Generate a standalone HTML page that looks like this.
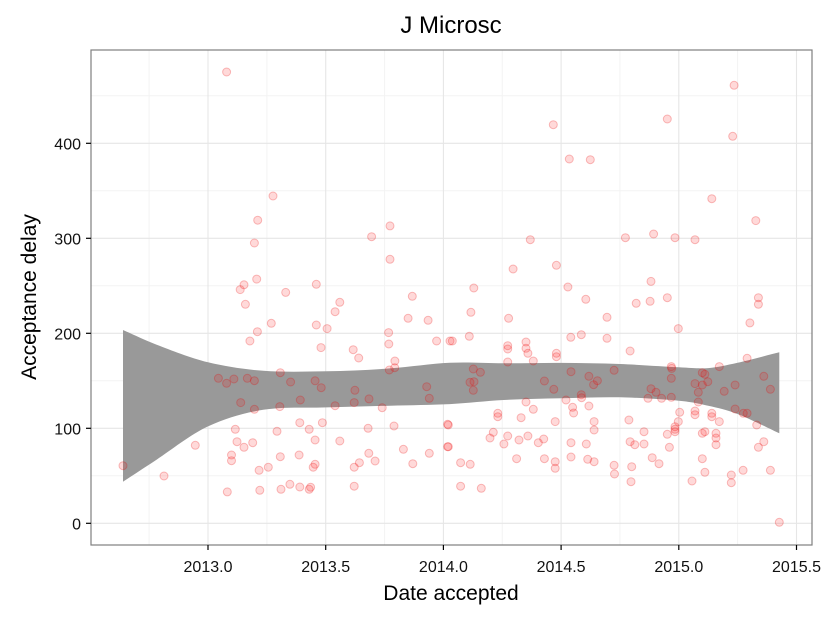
<!DOCTYPE html>
<html><head><meta charset="utf-8">
<style>
body{margin:0;background:#fff;}
svg{display:block;font-family:"Liberation Sans",sans-serif;}
</style></head>
<body>
<svg id="chart" width="825" height="618" viewBox="0 0 825 618" xmlns="http://www.w3.org/2000/svg">
<rect width="825" height="618" fill="#fff"/>
<text x="451" y="33" font-size="24" text-anchor="middle" fill="#000">J Microsc</text>
<g id="grid"></g>
<g id="band"></g>
<g id="points"></g>
<rect x="91" y="50" width="721" height="495" fill="none" stroke="#7f7f7f" stroke-width="1.2"/>
<g id="axes"></g>
<text x="451" y="600" font-size="21" text-anchor="middle">Date accepted</text>
<text transform="translate(36,297) rotate(-90)" font-size="21" text-anchor="middle">Acceptance delay</text>
</svg>
<script>
const xTicks = [2013.0, 2013.5, 2014.0, 2014.5, 2015.0, 2015.5];
const xTickLabels = ["2013.0", "2013.5", "2014.0", "2014.5", "2015.0", "2015.5"];
const yTicks = [0, 100, 200, 300, 400];
const yTickLabels = ["0", "100", "200", "300", "400"];
const pointX = [2013.079,2013.276,2013.211,2013.197,2013.207,2013.153,2013.137,2013.159,2013.33,2013.46,2013.56,2013.54,2013.269,2013.21,2013.46,2013.506,2013.178,2013.48,2013.617,2013.64,2013.695,2013.773,2013.773,2013.868,2013.85,2013.935,2013.767,2013.768,2013.971,2014.028,2013.794,2013.793,2013.77,
2013.044,2013.079,2013.11,2013.167,2013.197,2013.307,2013.351,2013.455,2013.481,2013.624,2013.929,2013.139,2013.197,2013.392,2013.305,2013.54,2013.621,2013.684,2013.74,2013.94,2014.018,2014.018,
2013.116,2013.79,2013.68,2013.486,2013.39,2013.43,2013.293,2012.946,2013.123,2013.153,2013.19,2013.455,2013.56,2013.83,2013.1,2013.1,2013.307,2013.387,2013.683,2013.71,2013.87,2013.94,2013.455,2013.447,2013.643,2013.621,2012.639,2012.813,2013.217,2013.256,2013.082,2013.22,2013.31,2013.348,2013.39,2013.43,2013.436,2013.621,
2015.235,2014.951,2015.229,2014.467,2014.535,2014.624,2015.14,2015.327,2014.369,2014.773,2014.893,2014.984,2015.069,2014.296,2014.48,2014.129,2014.529,2014.605,2014.882,2014.819,2014.878,2014.951,2015.338,2015.338,2014.117,2014.277,2014.695,2015.302,2014.998,2014.038,2014.11,2014.541,2014.586,2014.695,2014.273,2014.273,2014.351,2014.351,2014.359,2014.382,2014.48,2014.48,2014.793,2015.29,2014.273,
2014.127,2014.157,2014.113,2014.13,2014.127,2014.542,2014.618,2014.654,2014.638,2014.429,2014.469,2014.725,2014.968,2014.97,2014.968,2014.882,2014.903,2014.869,2014.927,2014.968,2015.1,2015.111,2015.123,2015.069,2015.1,2015.083,2015.172,2015.193,2015.239,2015.361,2015.389,2014.586,2014.587,2014.521,2014.351,2014.382,2014.549,2014.553,2014.618,2015.083,2015.069,2015.069,2015.14,2015.14,2015.239,2015.274,2015.29,2015.004,
2014.231,2014.231,2014.33,2014.475,2014.64,2014.64,2014.788,2014.998,2014.984,2014.984,2014.984,2015.172,2015.331,2014.021,2014.021,2014.212,2014.198,2014.257,2014.273,2014.321,2014.359,2014.403,2014.426,2014.542,2014.607,2014.793,2014.813,2014.852,2014.852,2014.951,2014.96,2015.111,2015.1,2015.158,2015.158,2015.158,2015.338,2015.361,
2014.311,2014.429,2014.475,2014.475,2014.542,2014.613,2014.64,2014.073,2014.114,2014.725,2014.727,2014.8,2014.797,2014.887,2014.916,2015.1,2015.111,2015.056,2015.223,2015.223,2015.273,2015.389,2014.073,2014.161,2015.427];
const pointY = [475,344.5,319,295,257,251,246,230.5,243,251.6,232.6,222.7,210.5,201.7,208.7,204.9,191.9,184.9,182.7,174,301.7,313,277.9,239,215.8,213.7,200.7,188.7,191.9,191.9,170.8,163.8,161.4,
152.6,147.4,151.9,152.6,150.1,158.5,148.7,150,142.7,140,143.8,127,120,129.8,122.8,123.8,127,130.9,121.7,131.6,104.2,80.6,
98.9,102.4,100,105.9,105.9,98.9,96.8,82.1,85.9,80,84.8,87.7,86.6,77.9,71.9,65.9,70.1,71.9,73.7,65.6,62.7,73.7,62.1,59,63.8,59,60.6,49.8,55.8,59,33,34.7,35.8,41,38.2,35.8,38,39,
461,425.6,407.4,419.6,383.5,382.7,341.7,318.6,298.5,300.6,304.5,300.6,298.5,267.7,271.6,247.7,248.7,235.8,254.6,231.6,233.7,237.5,237.5,230.5,222.1,215.8,216.8,210.9,204.9,191.9,196.8,195.8,198.5,194.7,186.9,183.5,190.8,184.2,179,170.8,179,175.4,181.4,173.7,169.8,
162.4,159,148.4,149.1,140,159.6,154.7,150.1,145.9,149.8,141,161,164.9,163,152.6,141.7,137.9,131.6,131.6,132.6,158.5,156.8,149.1,147,145.6,137.9,164.9,138.9,145.6,154.7,141,135.4,132.2,129.8,127.7,120,122.1,116.1,123.5,127.7,118.2,114.3,115.8,112.2,120.3,115.8,115.8,116.8,
115.8,112.2,111.2,107,107,98.2,108.7,107,101.7,98.9,96.4,107,103.5,103.5,80.6,95.8,89.8,83.5,91.9,87.7,91.9,84.8,88.7,84.8,83.5,85.9,82.7,83.5,96.4,93.7,80,96.4,94.7,94.7,89.8,82.7,80,85.9,
68,68,64.8,57.9,69.8,67.4,64.8,63.8,62.1,61,51.9,59.6,43.8,69,62.7,68,53.7,44.5,50.8,42.7,55.8,55.8,39,36.8,1];
const bandX = [2012.639,2012.782,2013.0,2013.235,2013.504,2013.773,2014.028,2014.256,2014.5,2014.75,2015.0,2015.125,2015.25,2015.427];
const bandUpper = [203.5,188,169.5,160.5,160,163,169,168.4,168.8,167.7,164.2,163.4,169,180];
const bandLower = [43.8,67,102,119.5,122,123.8,125.5,129.8,131.6,132.6,129,123.8,115,94.7];

const NS = "http://www.w3.org/2000/svg";
const X0 = 2013.0, PX0 = 208, PXPER = 235.4;
const PY0 = 523.3, PYPER = 0.95;
function xs(v){ return PX0 + (v - X0) * PXPER; }
function ys(v){ return PY0 - v * PYPER; }
function mk(tag, attrs, parent){
  const e = document.createElementNS(NS, tag);
  for (const k in attrs) e.setAttribute(k, attrs[k]);
  parent.appendChild(e);
  return e;
}
const grid = document.getElementById('grid');
const axes = document.getElementById('axes');
for (let v = 2012.75; v <= 2015.8; v += 0.5) {
  const l = mk('line', {x1: xs(v), x2: xs(v), y1: 50, y2: 545, stroke: '#f3f3f3', 'stroke-width': 1}, grid);
  
  
}
for (let v = -50; v <= 500; v += 100) {
  const y = ys(v); if (y < 50 || y > 545) continue;
  const l = mk('line', {x1: 91, x2: 812, y1: y, y2: y, stroke: '#f3f3f3', 'stroke-width': 1}, grid);
  
  
}
xTicks.forEach((v, i) => {
  const l = mk('line', {x1: xs(v), x2: xs(v), y1: 50, y2: 545, stroke: '#e6e6e6', 'stroke-width': 1.1}, grid);
  
  
  const t = mk('line', {x1: xs(v), x2: xs(v), y1: 545, y2: 550, stroke: '#000', 'stroke-width': 1.2}, axes);
  
  
  const tx = mk('text', {x: xs(v), y: 572, 'font-size': 16, 'text-anchor': 'middle', fill: '#111'}, axes);
  tx.textContent = xTickLabels[i];
  
  
});
yTicks.forEach((v, i) => {
  const l = mk('line', {x1: 91, x2: 812, y1: ys(v), y2: ys(v), stroke: '#e6e6e6', 'stroke-width': 1.1}, grid);
  
  
  const t = mk('line', {x1: 86, x2: 91, y1: ys(v), y2: ys(v), stroke: '#000', 'stroke-width': 1.2}, axes);
  
  
  const tx = mk('text', {x: 81, y: ys(v) + 6, 'font-size': 16, 'text-anchor': 'end', fill: '#111'}, axes);
  tx.textContent = yTickLabels[i];
  
  
});
// smooth curve through points (Catmull-Rom -> Bezier)
function smoothPath(pts, start){
  let s = start ? 'M' + pts[0][0].toFixed(1) + ',' + pts[0][1].toFixed(1) : 'L' + pts[0][0].toFixed(1) + ',' + pts[0][1].toFixed(1);
  for (let i = 0; i < pts.length - 1; i++) {
    const p0 = pts[Math.max(i - 1, 0)], p1 = pts[i], p2 = pts[i + 1], p3 = pts[Math.min(i + 2, pts.length - 1)];
    const c1 = [p1[0] + (p2[0] - p0[0]) / 6, p1[1] + (p2[1] - p0[1]) / 6];
    const c2 = [p2[0] - (p3[0] - p1[0]) / 6, p2[1] - (p3[1] - p1[1]) / 6];
    s += 'C' + c1[0].toFixed(1) + ',' + c1[1].toFixed(1) + ' ' + c2[0].toFixed(1) + ',' + c2[1].toFixed(1) + ' ' + p2[0].toFixed(1) + ',' + p2[1].toFixed(1);
  }
  return s;
}
const up = bandX.map((v, i) => [xs(v), ys(bandUpper[i])]);
const lo = bandX.map((v, i) => [xs(v), ys(bandLower[i])]).reverse();
const d = smoothPath(up, true) + smoothPath(lo, false) + 'Z';
const band = mk('path', {d: d, fill: '#999999'}, document.getElementById('band'));


const pg = document.getElementById('points');
pointX.forEach((v, i) => {
  const c = mk('circle', {cx: xs(v).toFixed(1), cy: ys(pointY[i]).toFixed(1), r: 4, fill: 'rgba(255,0,0,0.15)', stroke: 'rgba(230,0,0,0.25)', 'stroke-width': 1}, pg);
  
  
});
</script>
</body></html>
